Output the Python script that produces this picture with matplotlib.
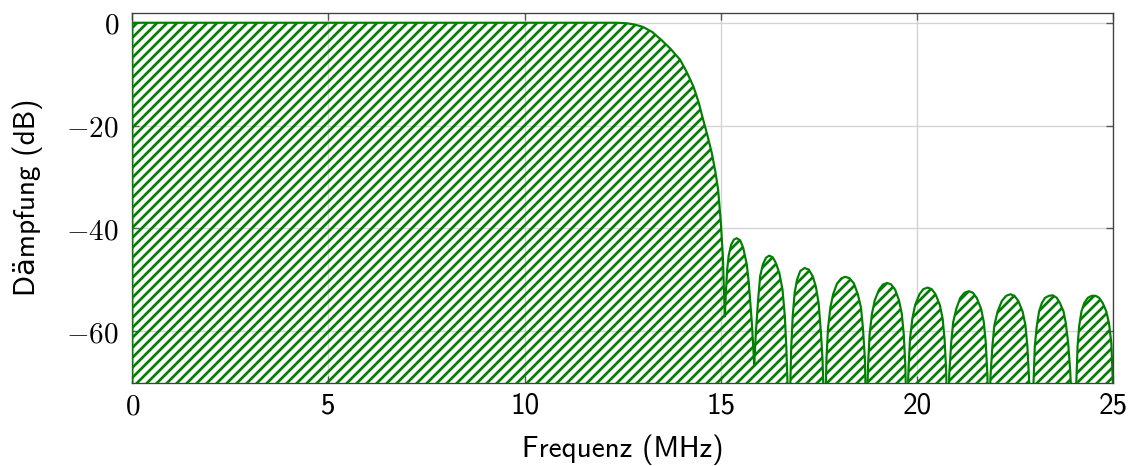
import numpy as np
import matplotlib
matplotlib.use("Agg")
import matplotlib.pyplot as plt

# filter response: frequency (MHz) and attenuation (dB); nulls go below the axis and get clipped
passband_f = [0.0, 12.17, 12.40, 12.60, 12.80, 13.01, 13.25, 13.49, 13.72, 13.96, 14.13, 14.30,
              14.43, 14.55, 14.66, 14.77, 14.86, 14.93, 15.00, 15.05, 15.10]
passband_db = [0.0, 0.0, -0.02, -0.1, -0.35, -0.8, -1.8, -3.4, -5.1, -7.2, -9.6, -12.4,
               -15.4, -18.9, -22.0, -25.4, -29.0, -32.5, -39.0, -45.4, -57.1]

stopband_f = [
    15.13, 15.16, 15.20, 15.26, 15.33, 15.40, 15.49, 15.57, 15.66, 15.71, 15.75, 15.79, 15.82, 15.85,
    15.87, 15.89, 15.95, 16.00, 16.07, 16.15, 16.23, 16.32, 16.40, 16.49, 16.57, 16.63, 16.67, 16.74,
    16.79, 16.83, 16.88, 16.94, 17.02, 17.13, 17.24, 17.34, 17.42, 17.49, 17.55, 17.59, 17.65,
    17.69, 17.73, 17.79, 17.86, 17.96, 18.07, 18.17, 18.28, 18.39, 18.49, 18.57, 18.62, 18.67, 18.71,
    18.75, 18.79, 18.85, 18.92, 19.03, 19.13, 19.24, 19.34, 19.44, 19.54, 19.61, 19.66, 19.70, 19.74,
    19.78, 19.82, 19.88, 19.95, 20.06, 20.16, 20.27, 20.37, 20.47, 20.58, 20.65, 20.70, 20.74, 20.78,
    20.82, 20.87, 20.92, 21.00, 21.10, 21.21, 21.32, 21.42, 21.52, 21.63, 21.70, 21.75, 21.79, 21.83,
    21.87, 21.92, 21.97, 22.05, 22.16, 22.27, 22.38, 22.48, 22.58, 22.69, 22.76, 22.81, 22.85, 22.91,
    22.97, 23.00, 23.05, 23.11, 23.18, 23.26, 23.36, 23.46, 23.56, 23.64, 23.73, 23.79, 23.85, 23.90, 23.98,
    24.06, 24.09, 24.13, 24.19, 24.26, 24.35, 24.45, 24.55, 24.64, 24.73, 24.82, 24.89, 24.95, 25.0,
]
stopband_db = [
    -52.0, -48.0, -45.2, -43.2, -42.2, -41.9, -42.3, -43.8, -47.0, -50.5, -54.5, -58.5, -62.5, -66.5,
    -63.5, -60.3, -53.8, -49.3, -47.0, -45.7, -45.3, -45.6, -46.7, -48.7, -51.9, -57.1, -63.6, -80.0,
    -63.6, -57.1, -52.5, -50.0, -48.3, -47.7, -48.0, -49.3, -51.3, -54.5, -60.3, -65.5, -80.0,
    -65.4, -59.4, -55.4, -52.8, -50.7, -49.7, -49.4, -49.7, -50.7, -52.8, -55.4, -59.4, -65.4, -80.0,
    -66.6, -60.6, -56.6, -54.0, -51.9, -50.9, -50.6, -50.9, -51.9, -54.0, -56.6, -60.6, -66.6, -80.0,
    -67.5, -61.5, -57.5, -54.9, -52.8, -51.8, -51.5, -51.8, -52.8, -54.9, -57.5, -61.5, -67.5, -80.0,
    -68.2, -62.2, -58.2, -55.6, -53.5, -52.5, -52.2, -52.5, -53.5, -55.6, -58.2, -62.2, -68.2, -80.0,
    -68.8, -62.8, -58.8, -56.2, -54.1, -53.1, -52.8, -53.1, -54.1, -56.2, -58.8, -62.8, -68.8, -80.0,
    -69.4, -62.9, -59.0, -56.1, -54.5, -53.5, -53.1, -53.0, -53.5, -54.5, -56.1, -58.4, -62.3, -67.5, -80.0,
    -69.4, -62.9, -59.0, -56.1, -54.5, -53.5, -53.1, -53.1, -53.5, -54.5, -56.1, -58.4, -62.3, -72.0,
]

x_ticks = [0, 5, 10, 15, 20, 25]
y_ticks = [0, -20, -40, -60]

plt.rcParams["mathtext.fontset"] = "cm"
plt.rcParams["hatch.color"] = "green"
plt.rcParams["hatch.linewidth"] = 1.6

sans = ["cmss10", "DejaVu Sans"]
fs = 17.5

fig = plt.figure(figsize=(1139 / 120, 466 / 120), dpi=120)
ax = fig.add_axes([0.11615, 0.17876, 0.86128, 0.79399])

freq = passband_f + stopband_f
atten = passband_db + stopband_db
ax.fill_between(freq, atten, -80, facecolor="none", edgecolor="green",
                hatch="////", linewidth=1.3, zorder=3)

ax.set_xlim(0, 25)
ax.set_ylim(-70, 1.95)

ax.set_xticks(x_ticks)
ax.set_xticklabels(["$0$"] + [str(t) for t in x_ticks[1:]])
for lab in ax.get_xticklabels()[1:]:
    lab.set_family(sans)
ax.set_yticks(y_ticks)
ax.set_yticklabels(["$%d$" % t for t in y_ticks])

ax.tick_params(direction="in", length=4, width=0.8, color="#555555",
               labelsize=fs, top=True, right=True)
ax.tick_params(axis="x", pad=6)
ax.tick_params(axis="y", pad=8)

ax.grid(True, color="#d3d3d3", linewidth=0.8, zorder=0)
ax.set_axisbelow(True)
for sp in ax.spines.values():
    sp.set_color("#404040")
    sp.set_linewidth(0.8)

ax.set_xlabel("Frequenz (MHz)", family=sans, fontsize=fs, labelpad=8)
ax.set_ylabel("Dämpfung (dB)", family=sans, fontsize=fs, labelpad=14)

fig.savefig("out.png", dpi=120)
